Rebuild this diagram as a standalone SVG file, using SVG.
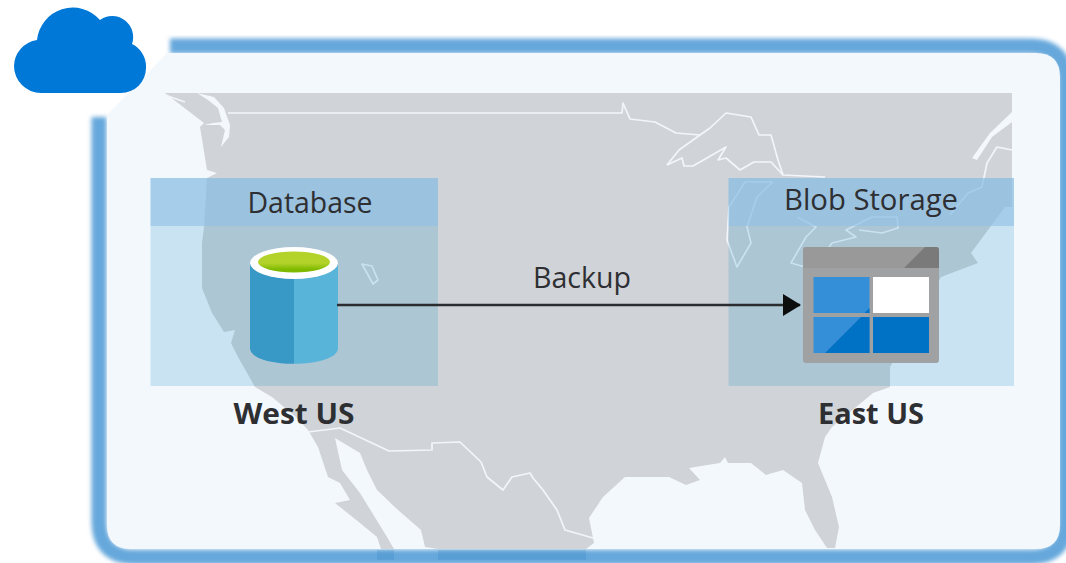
<svg xmlns="http://www.w3.org/2000/svg" width="1066" height="563" viewBox="0 0 1066 563">
<style>
.border{fill:none;stroke:#66a8dc;stroke-width:15}
.line{fill:none;stroke:#f2f6fa;stroke-width:1.700;stroke-linejoin:round}
.body{fill:#137dbe;fill-opacity:.17}
.head{fill:#85bae3;fill-opacity:.7}
text{font-family:"Open Sans","Noto Sans","Liberation Sans",sans-serif;fill:#2e2f33}
.t{font-size:30px}
.b{font-size:29px;font-weight:700}
</style>
<defs>
<filter id="soft" x="-5%" y="-5%" width="110%" height="110%"><feGaussianBlur stdDeviation="2.200"/></filter>
<filter id="s" x="-2%" y="-2%" width="104%" height="104%"><feGaussianBlur stdDeviation="0.6"/></filter>
<marker id="arrow" markerUnits="userSpaceOnUse" markerWidth="18" markerHeight="22" refX="17" refY="11" orient="auto"><path d="M0,0 L18,11 L0,22 Z" fill="#0d0d0d"/></marker>
<linearGradient id="cyl" x1="0" x2="1" y1="0" y2="0"><stop offset=".5" stop-color="#3999c6"/><stop offset=".5" stop-color="#59b4d9"/></linearGradient>
<linearGradient id="green" x1="0" x2="0" y1="0" y2="1"><stop offset=".55" stop-color="#b4d32a"/><stop offset=".85" stop-color="#7fba00"/></linearGradient>
</defs>
<g id="panel" filter="url(#s)">
<path class="border" filter="url(#soft)" d="M170,46 H1030 Q1066,46 1066,82 V521 Q1066,557 1030,557 H135 Q99,557 99,521 V117"/>
<path d="M167,53 H1036 Q1060,53 1060,77 V525 Q1060,549 1036,549 H131 Q107,549 107,525 V115 Z" fill="#f3f8fd"/>
</g>
<g id="map" filter="url(#s)">
<path fill="#d0d4d8" d="M165,93 L204,123 L200,127 L207,170 L217,173 L207,178 L204,227 L202,243 L202,288 L212,313 L224,332 L235,330 L231,343 L238,357 L255,387 L272,397 L296,417 L308,430 L318,447 L328,477 L340,483 L350,500 L335,503 L360,523 L377,537 L381,549 L394,549 L387,537 L360,493 L342,470 L335,438 L360,453 L367,470 L377,490 L398,510 L421,530 L425,547 L438,549 L586,549 L594,543 L589,518 L603,497 L625,477 L669,477 L686,485 L700,480 L689,468 L720,463 L725,457 L728,463 L751,463 L766,475 L783,470 L802,483 L805,510 L815,530 L827,548 L835,548 L839,527 L832,497 L818,463 L825,437 L832,427 L873,393 L890,387 L890,367 L941,277 L978,263 L971,253 L1005,207 L1012,207 L1012,93 Z"/>
<path class="line" stroke-width="3" d="M165,95 L185,102"/>
<path fill="#f3f8fd" d="M197,93 L214,97 L224,108 L230,125 L229,137 L221,147 L225,130 L220,125 L204,125 L213,123 L222,122 L218,108 L208,100 Z"/>
<path d="M377,550 H394 V560 H377 Z M438,550 H586 V560 H438 Z" fill="#2f7fb8" fill-opacity=".2"/>
<path class="line" d="M228,113 H622 L623,103 L630,119 L655,122 L676,133 L700,135"/>
<path class="line" d="M667,165 L679,150 L700,135 L710,128 L726,113 L751,117 L759,135 L771,135 L778,160 L783,175 L825,177"/>
<path class="line" d="M667,165 L682,158 L684,166 L693,166 L726,147 L718,160 L726,158 L740,170 L754,162 L771,162 L783,175"/>
<path class="line" d="M773,182 L757,197 L747,227 L751,243 L737,267 L727,240 L729,207 L745,182 L773,182"/>
<path class="line" d="M797,217 L816,227 L806,237 L791,263 L805,267"/>
<path class="line" d="M820,260 L832,243 L856,237 L846,230 L872,217 L897,217 L898,228 L882,233 L859,230"/>
<path class="line" d="M1012,150 L997,147 L987,163 L982,187 L968,193 L950,215"/>
<path fill="#f3f8fd" d="M972,158 L990,133 L1012,112 L1012,122 L992,137 L977,160 Z"/>
<path class="line" d="M308,432 L340,428 L389,451 L432,450 L432,443 L460,442 L481,462 L487,477 L503,490 L512,477 L530,473 L533,478 L543,490 L557,510 L565,530 L593,538"/>
<path class="line" stroke-width="1.200" d="M362,264 L372,266 L378,280 L373,284 Z"/>
</g>
<g id="node-database">
<g filter="url(#s)">
<rect class="body" x="150.500" y="226" width="287.500" height="160"/>
<rect class="head" x="150.500" y="178" width="287.500" height="48"/>
</g>
<text class="t" x="310" y="213" text-anchor="middle" textLength="125" lengthAdjust="spacingAndGlyphs">Database</text>
<g filter="url(#s)">
<path d="M250,264 V348 C250,369 338,369 338,348 V264 Z" fill="url(#cyl)"/>
<ellipse cx="294" cy="263" rx="44" ry="16" fill="#ffffff"/>
<ellipse cx="294" cy="262" rx="36" ry="10.500" fill="url(#green)"/>
</g>
<text class="b" x="294" y="424" text-anchor="middle" textLength="121" lengthAdjust="spacingAndGlyphs">West US</text>
</g>
<g id="node-blob">
<g filter="url(#s)">
<rect class="body" x="728.500" y="226" width="285.500" height="160"/>
<rect class="head" x="728.500" y="178" width="285.500" height="48"/>
</g>
<text class="t" x="871" y="210" text-anchor="middle" textLength="174" lengthAdjust="spacingAndGlyphs">Blob Storage</text>
<g filter="url(#s)">
<rect x="803" y="247" width="136" height="116" rx="3" fill="#a0a1a2"/>
<path d="M803,250 Q803,247 806,247 H936 Q939,247 939,250 V268 H803 Z" fill="#999999"/>
<path d="M904,268 L925,247 H936 Q939,247 939,250 V268 Z" fill="#7a7a7a"/>
<rect x="813.500" y="277" width="56" height="36" fill="#368fd8"/>
<path d="M869.500,308 V313 H864.500 Z" fill="#0072c6"/>
<rect x="873" y="277" width="56" height="36" fill="#ffffff"/>
<rect x="813.500" y="317" width="56" height="36" fill="#368fd8"/>
<path d="M869.500,317 V353 H825 L861,317 Z" fill="#0072c6"/>
<rect x="873" y="317" width="56" height="36" fill="#0072c6"/>
</g>
<text class="b" x="871" y="424" text-anchor="middle" textLength="106" lengthAdjust="spacingAndGlyphs">East US</text>
</g>
<g id="connectors">
<path d="M337,305 H800" fill="none" stroke="#2a2c30" stroke-width="2.500" marker-end="url(#arrow)"/>
<text class="t" x="582" y="288" text-anchor="middle" textLength="98" lengthAdjust="spacingAndGlyphs">Backup</text>
</g>
<g id="node-cloud" filter="url(#s)">
<path fill="#0078d7" d="M41,93 A27,27 0 0 1 14,66 A27,27 0 0 1 37,40 A36,36 0 0 1 100,20 A21,21 0 0 1 132,44 A25,25 0 0 1 146,68 A25,25 0 0 1 121,93 Z"/>
</g>
</svg>
